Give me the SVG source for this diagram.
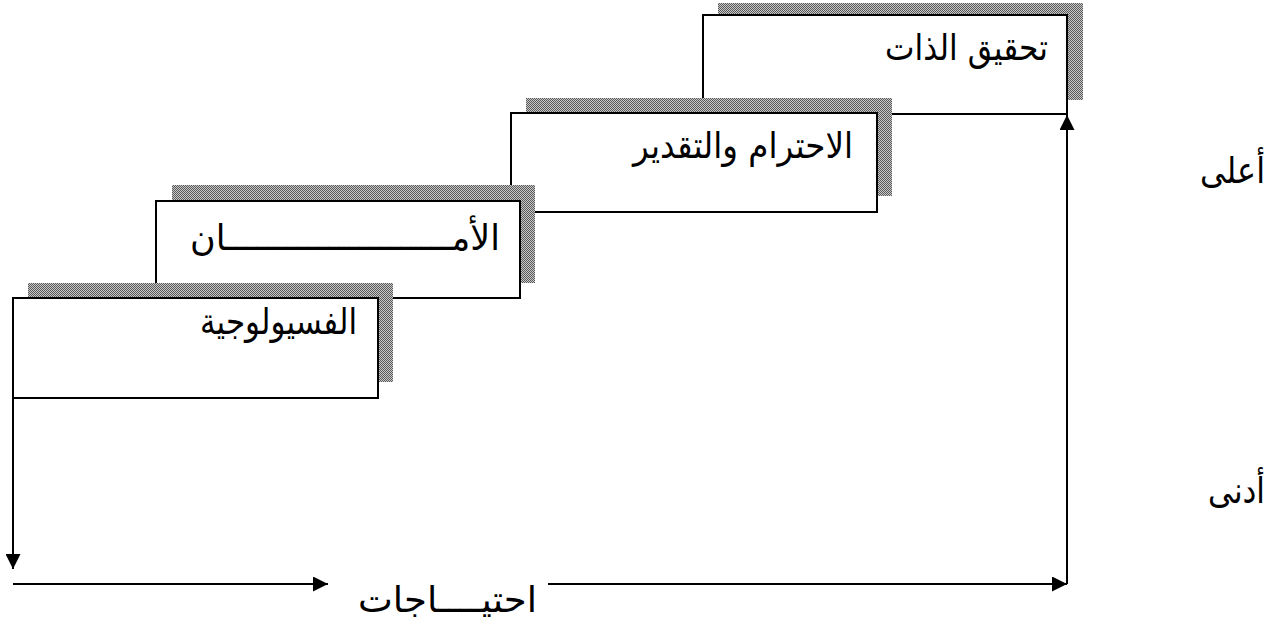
<svg xmlns="http://www.w3.org/2000/svg" width="1275" height="627" viewBox="0 0 1275 627">
<style>
.box{fill:#fff;stroke:#000;stroke-width:2}
.shadow{fill:url(#dither);stroke:none}
.lbl{font-family:"DejaVu Sans","Noto Sans",sans-serif;font-size:36px;fill:#000}
.conn{stroke:#000;stroke-width:2;fill:none}
</style>
<defs>
<pattern id="dither" width="2" height="2" patternUnits="userSpaceOnUse">
<rect width="2" height="2" fill="#c8c8c8"/>
<rect x="0" y="0" width="1" height="1" fill="#5a5a5a"/>
<rect x="1" y="1" width="1" height="1" fill="#5a5a5a"/>
</pattern>
<marker id="arr" viewBox="0 0 15 15" refX="15" refY="7.5" markerWidth="15" markerHeight="15" markerUnits="userSpaceOnUse" orient="auto">
<path d="M0,0 L15,7.5 L0,15 z" fill="#000"/>
</marker>
</defs>
<g id="connectors">
<line class="conn" x1="13" y1="398" x2="13" y2="569" marker-end="url(#arr)"/>
<line class="conn" x1="13" y1="584" x2="328" y2="584" marker-end="url(#arr)"/>
<line class="conn" x1="548" y1="584" x2="1067" y2="584" marker-end="url(#arr)"/>
<line class="conn" x1="1067" y1="584" x2="1067" y2="115" marker-end="url(#arr)"/>
</g>
<g id="node-self-actualization">
<rect class="shadow" x="718" y="3" width="365" height="97"/>
<rect class="box" x="703" y="15" width="364" height="99"/>
<text class="lbl" x="1048" y="60" text-anchor="end" textLength="163" lengthAdjust="spacingAndGlyphs">تحقيق الذات</text>
</g>
<g id="node-esteem">
<rect class="shadow" x="526" y="98" width="366" height="98"/>
<rect class="box" x="511" y="113" width="366" height="99"/>
<text class="lbl" x="853" y="158" text-anchor="end" textLength="220" lengthAdjust="spacingAndGlyphs">الاحترام والتقدير</text>
</g>
<g id="node-safety">
<rect class="shadow" x="172" y="185" width="363" height="98"/>
<rect class="box" x="156" y="201" width="364" height="97"/>
<text class="lbl" x="500" y="250" text-anchor="end" textLength="310" lengthAdjust="spacingAndGlyphs">الأمــــــــــــــــــــــان</text>
</g>
<g id="node-physiological">
<rect class="shadow" x="28" y="283" width="365" height="99"/>
<rect class="box" x="13" y="298" width="365" height="100"/>
<text class="lbl" x="357" y="334" text-anchor="end" textLength="157" lengthAdjust="spacingAndGlyphs">الفسيولوجية</text>
</g>
<g id="axis-labels">
<text class="lbl" x="537" y="612" text-anchor="end" textLength="179" lengthAdjust="spacingAndGlyphs">احتيــــاجات</text>
<text class="lbl" x="1265" y="183" text-anchor="end" textLength="65" lengthAdjust="spacingAndGlyphs">أعلى</text>
<text class="lbl" x="1265" y="503" text-anchor="end" textLength="57" lengthAdjust="spacingAndGlyphs">أدنى</text>
</g>
</svg>
